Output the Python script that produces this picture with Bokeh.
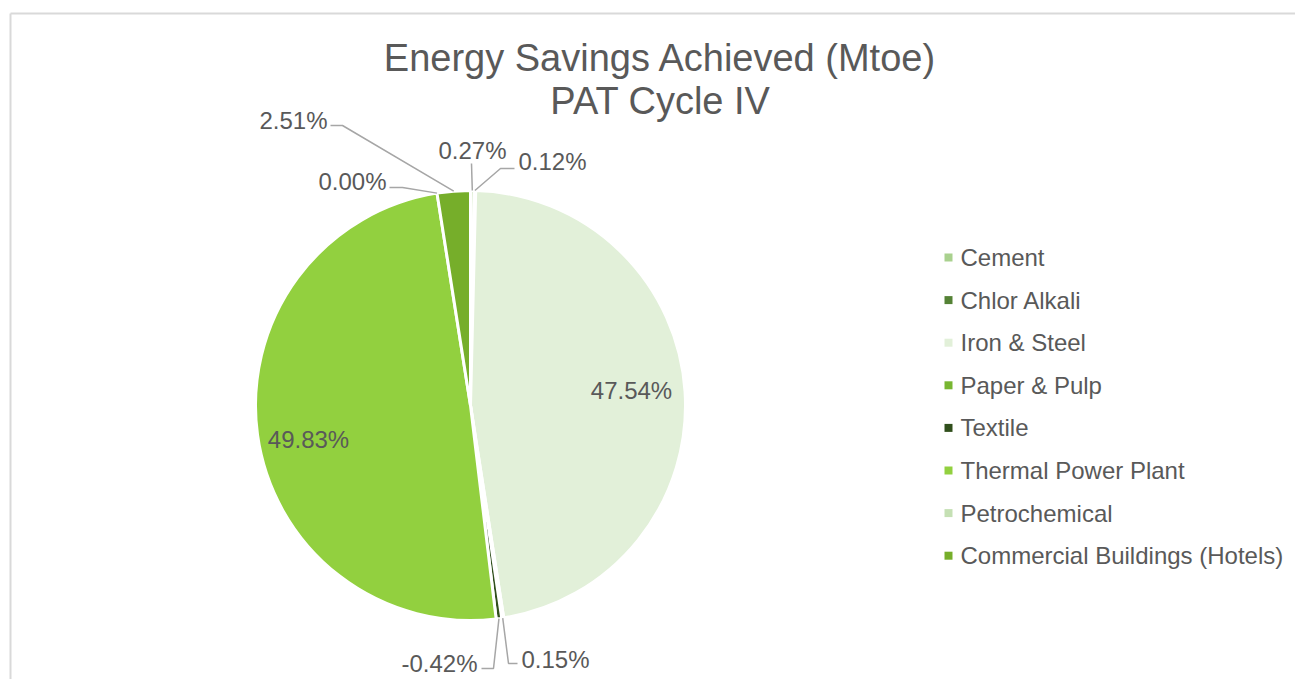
import math
from bokeh.plotting import figure
from bokeh.models import Range1d, ColumnDataSource
from bokeh.core.properties import value
from bokeh.embed import file_html
from bokeh.resources import INLINE

# ---- data ----
categories = ["Cement", "Chlor Alkali", "Iron & Steel", "Paper & Pulp", "Textile",
              "Thermal Power Plant", "Petrochemical", "Commercial Buildings (Hotels)"]
shares = [0.27, 0.12, 47.54, 0.15, -0.42, 49.83, 0.00, 2.51]   # % of total savings
colors = ["#A9D18E", "#548235", "#E2F0D9", "#78B631", "#304F1C",
          "#92D03F", "#C5E0B4", "#76AE2A"]
title_lines = ["Energy Savings Achieved (Mtoe)", "PAT Cycle IV"]

# ---- layout (screenshot pixel coordinates) ----
W, H = 1295, 679
def px(x): return x
def py(y): return H - y

CX, CY, R = px(470), py(405), 215
FONT = "Liberation Sans"
TXT = "#595959"

# label layout: (mode, text x, text y, align, elbow points in screenshot coords)
label_layout = [
    ("out", 472, 150, "center", [(471, 163)]),
    ("out", 518, 161, "left", [(514, 168), (500, 168)]),
    ("in", 631, 390, "center", None),
    ("out", 521, 659, "left", [(517, 663), (508, 663)]),
    ("out", 477, 663, "right", [(481, 668), (493, 668)]),
    ("in", 308, 439, "center", None),
    ("out", 386, 181, "right", [(389, 187), (402, 187)]),
    ("out", 327, 120, "right", [(330, 125), (342, 125)]),
]

p = figure(width=W, height=H, x_range=Range1d(0, W), y_range=Range1d(0, H),
           output_backend="svg", toolbar_location=None, min_border=0)
p.axis.visible = False
p.grid.visible = False
p.outline_line_color = None
p.background_fill_color = "white"
p.border_fill_color = "white"

# chart frame border (left and top edges visible)
p.segment(x0=[px(10), px(10)], y0=[py(13), py(13)], x1=[px(10), px(1300)], y1=[py(690), py(13)],
          line_color="#D9D9D9", line_width=2)

# ---- wedges ----
total = sum(abs(v) for v in shares)
k = 2 * math.pi / total
cum = 0.0
starts, ends, mids = [], [], []
for v in shares:
    a0 = cum
    cum += abs(v)
    starts.append(math.pi / 2 - cum * k)
    ends.append(math.pi / 2 - a0 * k)
    mids.append(math.pi / 2 - (a0 + abs(v) / 2) * k)

keep = [i for i, v in enumerate(shares) if abs(v) > 0]
src = ColumnDataSource(dict(
    x=[CX] * len(keep), y=[CY] * len(keep),
    start=[starts[i] for i in keep], end=[ends[i] for i in keep],
    color=[colors[i] for i in keep]))
p.wedge(x="x", y="y", radius=R, start_angle="start", end_angle="end",
        fill_color="color", line_color="white", line_width=3, source=src)

# ---- data labels ----
for i, v in enumerate(shares):
    mode, tx, ty, align, elbow = label_layout[i]
    label = f"{v:.2f}%"
    if mode == "out":
        ax = CX + R * math.cos(mids[i])
        ay = CY + R * math.sin(mids[i])
        xs = [px(e[0]) for e in elbow] + [ax]
        ys = [py(e[1]) for e in elbow] + [ay]
        p.line(x=xs, y=ys, line_color="#A6A6A6", line_width=1.5)
    p.text(x=[px(tx)], y=[py(ty)], text=[label], text_align=align, text_baseline="middle",
           text_font=value(FONT), text_font_size="24px", text_color=TXT)

# ---- title ----
p.text(x=[px(660), px(660)], y=[py(57), py(100)], text=title_lines,
       text_align="center", text_baseline="middle",
       text_font=value(FONT), text_font_size="38px", text_color=TXT)

# ---- legend ----
ly = [py(257 + i * 42.6) for i in range(len(categories))]
p.scatter(x=[px(948)] * len(categories), y=ly, marker="square", size=8,
          fill_color=colors, line_color=None)
p.text(x=[px(960)] * len(categories), y=ly, text=categories,
       text_align="left", text_baseline="middle",
       text_font=value(FONT), text_font_size="24px", text_color=TXT)

open("out.html", "w").write(file_html(p, INLINE))
